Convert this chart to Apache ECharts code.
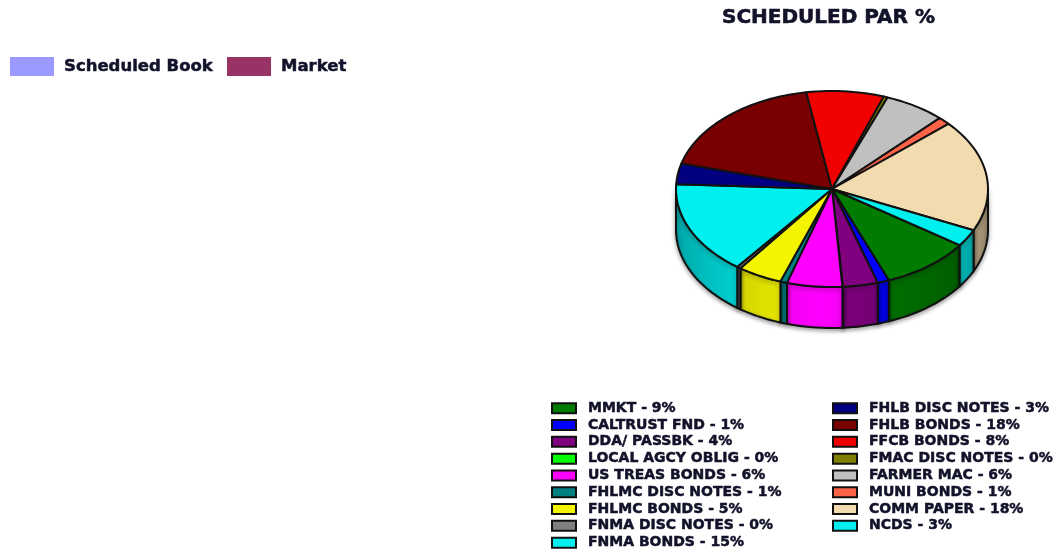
<!DOCTYPE html>
<html>
<head>
<meta charset="utf-8">
<script src="https://cdn.jsdelivr.net/npm/echarts@6/dist/echarts.min.js"></script>
<style>
  html, body { margin: 0; padding: 0; background: #fff; }
  #chart { width: 1060px; height: 549px; }
</style>
</head>
<body>
<div id="chart"></div>
<script>
// slice names and their share of scheduled par
var categories = ['MMKT', 'CALTRUST FND', 'DDA/ PASSBK', 'LOCAL AGCY OBLIG', 'US TREAS BONDS',
    'FHLMC DISC NOTES', 'FHLMC BONDS', 'FNMA DISC NOTES', 'FNMA BONDS', 'FHLB DISC NOTES',
    'FHLB BONDS', 'FFCB BONDS', 'FMAC DISC NOTES', 'FARMER MAC', 'MUNI BONDS', 'COMM PAPER', 'NCDS'];
var shares = [9.3, 1.2, 3.6, 0.05, 5.7, 0.7, 4.6, 0.4, 15.3, 3.4, 18.1, 8.0, 0.4, 6.3, 1.3, 18.4, 2.8];
var sliceColors = ['#007c00', '#0000ff', '#800080', '#00ff00', '#ff00ff', '#008080', '#f4f400', '#808080',
    '#00f0f0', '#000080', '#780000', '#f00000', '#808000', '#c0c0c0', '#ff6347', '#f3dbb0', '#00f0f0'];
// empty series shown only in the top legend
var topSeries = ['Scheduled Book', 'Market'];
var topColors = ['#9999ff', '#993366'];

var myChart = echarts.init(document.getElementById('chart'));

var FONT = 'DejaVu Sans';
var TXT = '#12122a';
// pie geometry
var cx = 832, cy = 189, rx = 156, ry = 98, depth = 41, startDeg = 35;

function shade(hex, f) {
    var c = echarts.color.parse(hex);
    return 'rgb(' + Math.round(c[0] * f) + ',' + Math.round(c[1] * f) + ',' + Math.round(c[2] * f) + ')';
}
function light(deg) {
    var d = ((deg % 360) + 360) % 360;
    var f = 1 - 0.38 * Math.abs(d - 95) / 90;
    return Math.max(0.6, Math.min(1, f));
}
function pt(deg, dy) {
    var r = deg * Math.PI / 180;
    return [cx + rx * Math.cos(r), cy + dy + ry * Math.sin(r)];
}

var total = shares.reduce(function (a, b) { return a + b; }, 0);
var names = [];
var cum = 0;
var series = [];

categories.forEach(function (cat, i) {
    var a0 = startDeg + cum / total * 360;
    cum += shares[i];
    var a1 = startDeg + cum / total * 360;
    var name = cat + ' - ' + Math.round(shares[i] / total * 100) + '%';
    names.push(name);
    var color = sliceColors[i];
    series.push({
        name: name,
        type: 'custom',
        coordinateSystem: 'none',
        itemStyle: { color: color },
        data: [[a0, a1]],
        renderItem: function (params, api) {
            var s0 = api.value(0), s1 = api.value(1);
            var n = Math.max(2, Math.ceil((s1 - s0) / 2));
            var children = [];
            var topPts = [[cx, cy]];
            for (var k = 0; k <= n; k++) topPts.push(pt(s0 + (s1 - s0) * k / n, 0));
            children.push({
                type: 'polygon', z2: 10,
                shape: { points: topPts },
                style: { fill: color, stroke: '#111', lineWidth: 2, lineJoin: 'round' }
            });
            [0, 360].forEach(function (base) {
                var s = Math.max(s0, base), e = Math.min(s1, base + 180);
                if (e <= s) return;
                var m = Math.max(2, Math.ceil((e - s) / 2));
                var pts = [], k;
                for (k = 0; k <= m; k++) pts.push(pt(s + (e - s) * k / m, 0));
                for (k = m; k >= 0; k--) pts.push(pt(s + (e - s) * k / m, depth));
                var xs = pts.map(function (p) { return p[0]; });
                var xmin = Math.min.apply(null, xs), xmax = Math.max.apply(null, xs);
                var fill;
                if (xmax - xmin < 1) {
                    fill = shade(color, light((s + e) / 2));
                } else {
                    var stops = [];
                    for (k = 0; k <= m; k++) {
                        var d = s + (e - s) * k / m;
                        stops.push({ offset: (pt(d, 0)[0] - xmin) / (xmax - xmin), color: shade(color, light(d)) });
                    }
                    stops.sort(function (a, b) { return a.offset - b.offset; });
                    fill = new echarts.graphic.LinearGradient(0, 0, 1, 0, stops);
                }
                children.push({
                    type: 'polygon', z2: 1,
                    shape: { points: pts },
                    style: {
                        fill: fill, stroke: '#111', lineWidth: 2, lineJoin: 'round',
                        shadowColor: 'rgba(0,0,0,0.35)', shadowBlur: 4, shadowOffsetY: 2
                    }
                });
            });
            return { type: 'group', children: children };
        }
    });
});

topSeries.forEach(function (nm, i) {
    series.push({
        name: nm,
        type: 'custom',
        coordinateSystem: 'none',
        itemStyle: { color: topColors[i] },
        data: [],
        renderItem: function () { return { type: 'group', children: [] }; }
    });
});

var bottomLegend = {
    orient: 'vertical',
    padding: 0,
    top: 401,
    height: 200,
    itemWidth: 24,
    itemHeight: 10,
    itemGap: 2.3,
    icon: 'rect',
    selectedMode: false,
    itemStyle: { borderColor: '#111', borderWidth: 2 },
    textStyle: {
        fontFamily: FONT, fontWeight: 'bold', fontSize: 14, lineHeight: 14, color: TXT,
        textBorderColor: TXT, textBorderWidth: 0.5, padding: [0, 0, 0, 7]
    }
};

var option = {
    animation: false,
    title: {
        text: 'SCHEDULED PAR %',
        left: 722,
        top: 8,
        padding: 0,
        textStyle: { fontFamily: FONT, fontWeight: 'bold', fontSize: 20, color: TXT, textBorderColor: TXT, textBorderWidth: 0.6 }
    },
    legend: [
        {
            data: topSeries,
            left: 10,
            top: 57,
            padding: 0,
            itemWidth: 44,
            itemHeight: 19,
            itemGap: 14,
            icon: 'rect',
            selectedMode: false,
            itemStyle: { borderWidth: 0 },
            textStyle: {
                fontFamily: FONT, fontWeight: 'bold', fontSize: 16.5, color: TXT,
                textBorderColor: TXT, textBorderWidth: 0.5, padding: [0, 0, 0, 5]
            }
        },
        Object.assign({}, bottomLegend, { left: 551, data: names.slice(0, 9) }),
        Object.assign({}, bottomLegend, { left: 832, data: names.slice(9) })
    ],
    series: series
};

myChart.setOption(option);

window.addEventListener('resize', function () {
    myChart.resize();
});
</script>
</body>
</html>
